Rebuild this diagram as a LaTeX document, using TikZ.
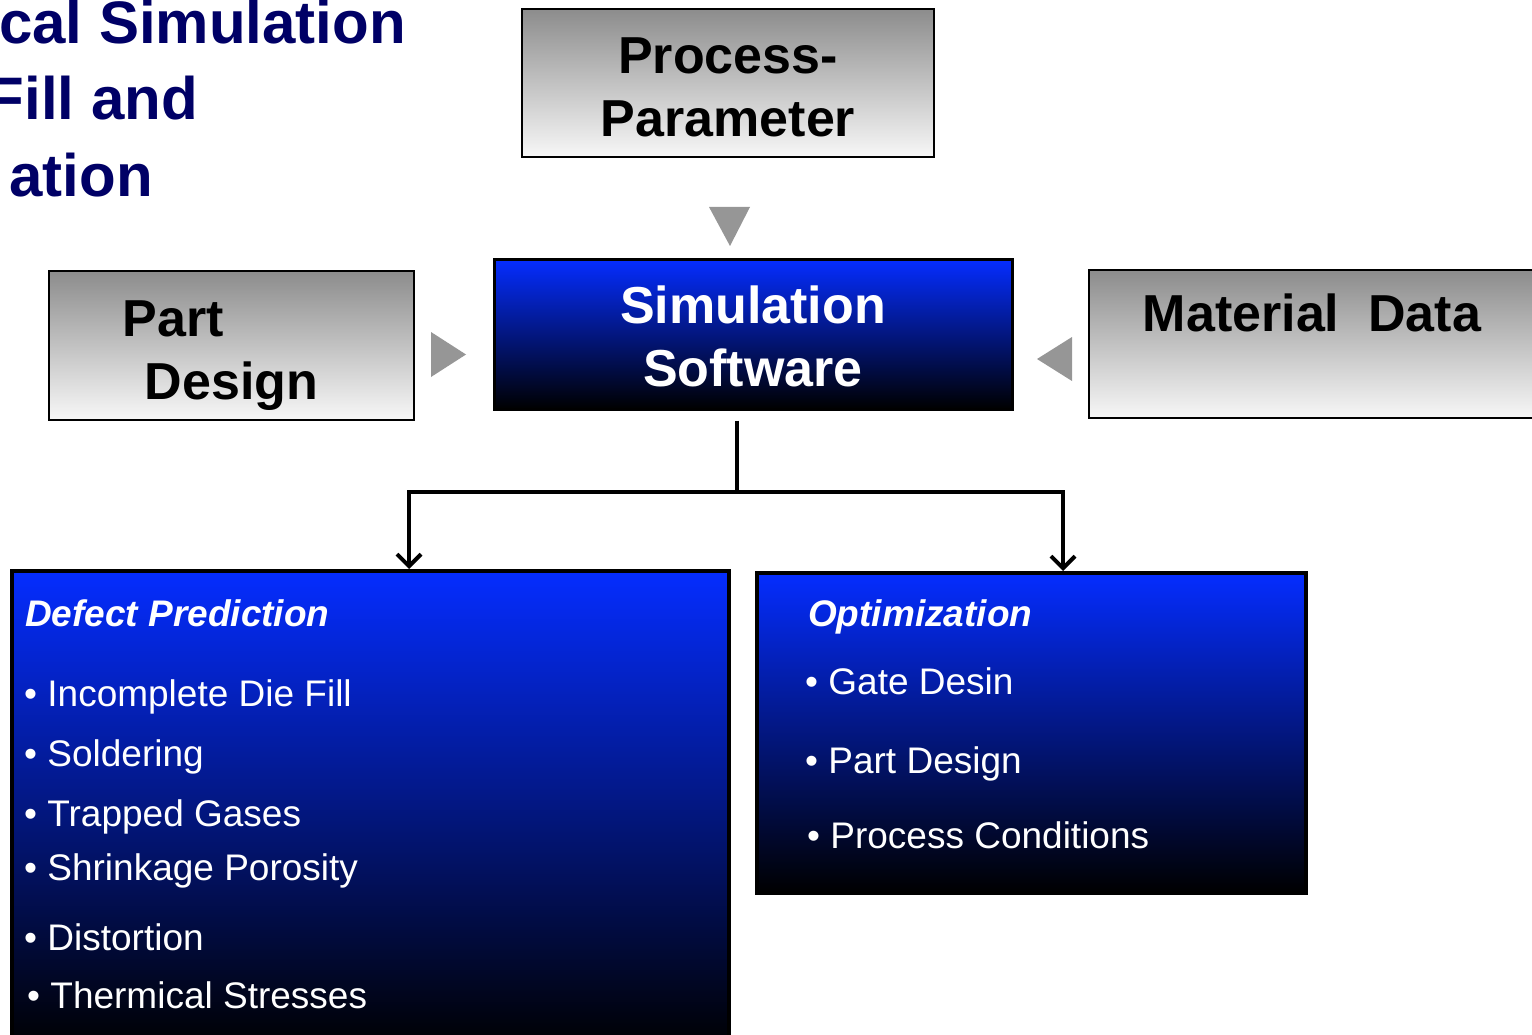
\documentclass[tikz,border=0pt]{standalone}
\usepackage{fontspec}
\setmainfont{Liberation Sans}
\usetikzlibrary{arrows.meta}

\definecolor{navy}{RGB}{0,0,102}
\definecolor{brightblue}{RGB}{5,45,255}
\definecolor{arrowgray}{RGB}{150,150,150}

\begin{document}
\begin{tikzpicture}[x=1pt,y=-1pt,
  graybox/.style={draw=black,line width=2pt,top color=black!45,bottom color=white!97!black,inner sep=0pt,align=center,font=\bfseries\fontsize{52}{63}\selectfont},
  bluebox/.style={draw=black,line width=3pt,top color=brightblue,bottom color=black,inner sep=0pt,text=white,align=center,font=\bfseries\fontsize{52}{63}\selectfont},
  listbox/.style={draw=black,line width=4pt,top color=brightblue,bottom color=black,inner sep=0pt},
  listhead/.style={anchor=base west,inner sep=0pt,text=white,font=\bfseries\itshape\fontsize{37}{44}\selectfont},
  listitem/.style={anchor=base west,inner sep=0pt,text=white,font=\fontsize{37}{44}\selectfont},
  titletext/.style={anchor=base east,inner sep=0pt,text=navy,font=\bfseries\fontsize{60}{72}\selectfont},
  pointer/.style={fill=arrowgray},
  conn/.style={line width=4pt,-{Straight Barb[length=12pt,width=24pt]}}]
%\draw[step=100,gray,very thin] (0,0) grid (1532,1035);
\useasboundingbox (0,0) rectangle (1532,1035);

% title (cut at the left edge)
\node[titletext] (t1) at (406,44) {cal Simulation};
\node[titletext] (t2) at (198,120) {Fill and};
\node[titletext] (t3) at (153,197) {ation};

% input boxes
\node[graybox,minimum width=412pt,minimum height=148pt] (pp) at (728,83) {\rule{0pt}{44pt}Process-\\Parameter};
\node[graybox,minimum width=365pt,minimum height=149pt] (part) at (231.5,345.5) {\rule{0pt}{57pt}Part\hspace*{116pt}\\Design};
\node[bluebox,minimum width=518pt,minimum height=149pt] (sim) at (753,334.5) {\rule{0pt}{42pt}Simulation\\Software};
\node[graybox,minimum width=452pt,minimum height=148pt] (mat) at (1315,344) {Material\ \ Data\hspace*{6pt}\\\mbox{}};

% grey pointers
\fill[pointer] (709,207) -- (750,207) -- (730,246) -- cycle;
\fill[pointer] (431,332) -- (466,354.5) -- (431,377) -- cycle;
\fill[pointer] (1072,337) -- (1037,359) -- (1072,381) -- cycle;

% output boxes
\node[listbox,minimum width=717pt,minimum height=478pt] (defect) at (370.5,810) {};
\node[listbox,minimum width=549pt,minimum height=320pt] (opt) at (1031.5,733) {};

% connectors
\coordinate (split) at (737,492);
\draw[conn] ([shift={(-16,10)}]sim.south) -- (split) -| ([xshift=38.5pt]defect.north);
\draw[conn] (split) -| ([xshift=31.5pt]opt.north);

% defect list
\node[listhead] (dhead) at (25,626) {Defect Prediction};
\foreach \x/\y/\txt [count=\i] in {24/706/Incomplete Die Fill,24/766/Soldering,24/826/Trapped Gases,24/880/Shrinkage Porosity,24/950/Distortion,27/1008/Thermical Stresses}
{
  \node[listitem] (d\i) at (\x,\y) {• \txt};
}

% optimization list
\node[listhead] (ohead) at (808,626) {Optimization};
\foreach \x/\y/\txt [count=\i] in {805/694/Gate Desin,805/773/Part Design,807/848/Process Conditions}
{
  \node[listitem] (o\i) at (\x,\y) {• \txt};
}

\end{tikzpicture}
\end{document}
